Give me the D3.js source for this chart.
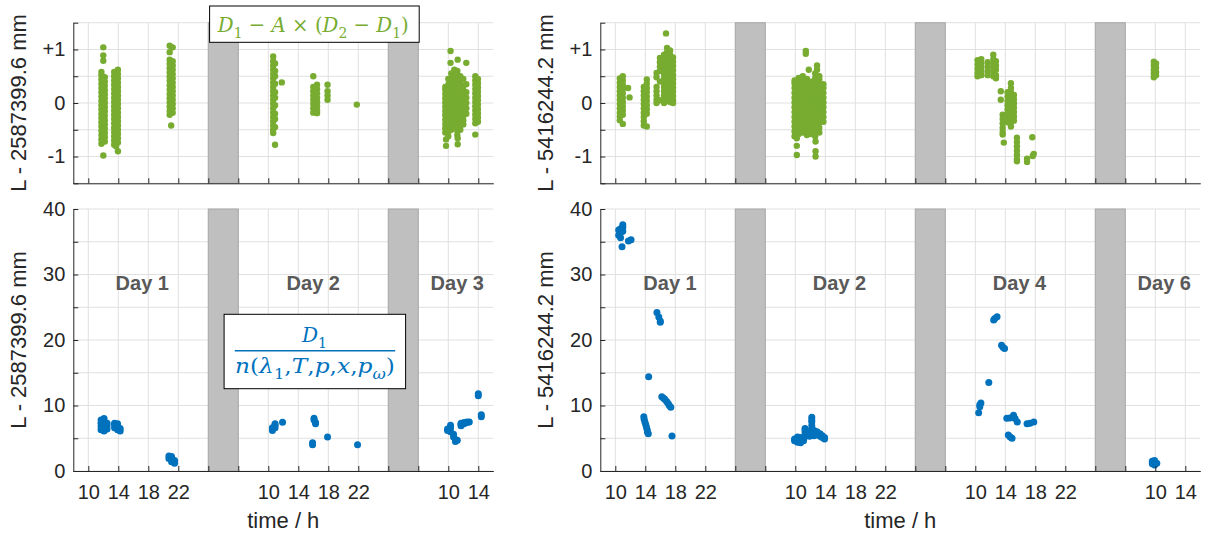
<!DOCTYPE html>
<html><head><meta charset="utf-8">
<script src="https://cdn.jsdelivr.net/npm/d3@7"></script>
<style>body{margin:0;background:#fff}svg{display:block}</style>
</head><body>
<svg id="c" width="1208" height="539"></svg>
<script>
// ---------------- DATA ----------------
// columns: [hour, [values...]]  (hours continuous, day n at 24*(n-1)+hh)
const leftTopCols = [
 [11.75,[-0.76,-0.68,-0.6,-0.52,-0.44,-0.36,-0.28,-0.2,-0.12,-0.04,0.04,0.12,0.2,0.28,0.36,0.44,0.52,0.58]],
 [12.2,[-0.72,-0.64,-0.56,-0.48,-0.4,-0.32,-0.24,-0.16,-0.08,0.0,0.08,0.16,0.24,0.32,0.4,0.48]],
 [12.0,[1.04,0.89,0.79,-0.98,-0.5,0.1,0.45]],
 [13.45,[-0.78,-0.7,-0.62,-0.54,-0.46,-0.38,-0.3,-0.22,-0.14,-0.06,0.02,0.1,0.18,0.26,0.34,0.42,0.5,0.58]],
 [13.95,[-0.9,-0.74,-0.66,-0.58,-0.5,-0.42,-0.34,-0.26,-0.18,-0.1,-0.02,0.06,0.14,0.22,0.3,0.38,0.46,0.54,0.62]],
 [13.7,[-0.81,-0.2,0.3]],
 [20.85,[1.07,0.95,0.81,0.73,0.65,0.57,0.49,0.41,0.33,0.25,0.17,0.09,0.01,-0.07,-0.15,-0.22]],
 [21.25,[1.04,0.78,0.7,0.62,0.54,0.46,0.38,0.3,0.22,0.14,0.06,-0.02,-0.1,-0.18]],
 [21.05,[-0.42]],
 [34.65,[0.87,0.78,0.7,0.62,0.54,0.46,0.38,0.3,0.22,0.14,0.06,-0.02,-0.1,-0.18,-0.26,-0.34,-0.42,-0.5,-0.56]],
 [34.9,[0.74,0.6,0.5,0.36,0.2,0.1,-0.04,-0.2,-0.3,-0.45,-0.78]],
 [35.8,[0.385]],
 [40.0,[0.5,0.3,0.22,0.14,0.06,-0.02,-0.1,-0.18]],
 [40.5,[0.34,0.26,0.18,0.1,0.02,-0.06,-0.14,-0.19]],
 [41.9,[0.34,0.22,0.14,0.06]],
 [45.8,[-0.03]],
 [57.6,[-0.55,-0.47,-0.39,-0.31,-0.23,-0.15,-0.07,0.01,0.09,0.17,0.25,0.3]],
 [58.0,[-0.62,-0.54,-0.46,-0.38,-0.3,-0.22,-0.14,-0.06,0.02,0.1,0.18,0.26,0.34,0.45]],
 [58.4,[-0.5,-0.42,-0.34,-0.26,-0.18,-0.1,-0.02,0.06,0.14,0.22,0.3,0.38,0.46,0.55]],
 [58.8,[-0.45,-0.37,-0.29,-0.21,-0.13,-0.05,0.03,0.11,0.19,0.27,0.35,0.43,0.51,0.62]],
 [59.2,[-0.6,-0.52,-0.44,-0.36,-0.28,-0.2,-0.12,-0.04,0.04,0.12,0.2,0.28,0.36,0.44,0.52,0.6]],
 [59.6,[-0.5,-0.42,-0.34,-0.26,-0.18,-0.1,-0.02,0.06,0.14,0.22,0.3,0.38,0.5]],
 [60.0,[-0.4,-0.32,-0.24,-0.16,-0.08,0.0,0.08,0.16,0.24,0.32,0.45]],
 [60.4,[-0.2,-0.1,0.0,0.1,0.2,0.35,0.75]],
 [58.3,[0.97,0.75]],
 [59.25,[0.81,-0.77,-0.66]],
 [57.7,[-0.8,-0.68]],
 [61.6,[0.5,0.42,0.34,0.26,0.18,0.1,0.02,-0.06,-0.14,-0.22,-0.3,-0.38,-0.59]],
 [61.95,[0.45,0.37,0.29,0.21,0.13,0.05,-0.03,-0.11,-0.19,-0.27,-0.35]]
];
const rightTopCols = [
 [10.6,[0.46,0.38,0.3,0.22,0.14,0.06,-0.02,-0.1,-0.18,-0.25,-0.32]],
 [11.0,[0.5,0.42,0.34,0.26,0.18,0.1,0.02,-0.06,-0.14,-0.22,-0.39]],
 [11.7,[0.28]],[11.9,[0.105]],
 [13.8,[0.3,0.22,0.14,0.06,-0.02,-0.1,-0.18,-0.26,-0.34,-0.42]],
 [14.2,[0.44,0.36,0.28,0.2,0.12,0.04,-0.04,-0.12,-0.2,-0.44]],
 [15.5,[0.56,0.48,0.3,0.22,0.14,0.06,0.0]],
 [15.95,[0.84,0.76,0.68,0.6,0.4,0.05]],
 [16.5,[0.9,0.8,0.7,0.62,0.54,0.46,0.38,0.3,0.22,0.14,0.06,0.0]],
 [16.9,[1.03,0.95,0.87,0.79,0.71,0.63,0.55,0.47,0.39,0.31,0.23,0.15,0.07]],
 [17.3,[0.98,0.9,0.82,0.74,0.66,0.58,0.5,0.42,0.34,0.26,0.18,0.1,0.02]],
 [17.7,[0.85,0.77,0.69,0.61,0.53,0.45,0.37,0.29,0.21,0.13,0.05,0.0]],
 [16.76,[1.3]],
 [33.9,[-0.62,-0.53,-0.44,-0.35,-0.26,-0.17,-0.08,0.01,0.1,0.19,0.28,0.37,0.42]],
 [34.45,[-0.58,-0.49,-0.4,-0.31,-0.22,-0.13,-0.04,0.05,0.14,0.23,0.32,0.41,0.47]],
 [35.0,[-0.55,-0.46,-0.37,-0.28,-0.19,-0.1,-0.01,0.08,0.17,0.26,0.35,0.44,0.5]],
 [35.55,[-0.6,-0.51,-0.42,-0.33,-0.24,-0.15,-0.06,0.03,0.12,0.21,0.3,0.39,0.45]],
 [36.1,[-0.58,-0.49,-0.4,-0.31,-0.22,-0.13,-0.04,0.05,0.14,0.23,0.32,0.4]],
 [36.65,[-0.62,-0.53,-0.44,-0.35,-0.26,-0.17,-0.08,0.01,0.1,0.19,0.28,0.37,0.46,0.55]],
 [37.2,[-0.55,-0.46,-0.37,-0.28,-0.19,-0.1,-0.01,0.08,0.17,0.26,0.35,0.44,0.5]],
 [37.75,[-0.35,-0.26,-0.17,-0.08,0.01,0.1,0.19,0.28,0.35]],
 [34.2,[-0.8,-0.97,-0.66]],
 [36.7,[-0.9,-1.0,-0.72]],
 [35.4,[0.97,0.92]],
 [36.9,[0.7,0.62]],
 [35.8,[0.62]],
 [58.3,[0.8,0.72,0.64,0.56,0.5]],
 [58.8,[0.82,0.74,0.66,0.58,0.52]],
 [59.65,[0.76,0.68,0.6,0.52]],
 [60.4,[0.9,0.82,0.74,0.66,0.58,0.5]],
 [60.75,[0.78,0.7,0.62,0.52,0.46]],
 [61.4,[0.22,0.06]],
 [62.3,[0.2,0.12,0.04,-0.04,-0.12,-0.2,-0.28,-0.36]],
 [62.75,[0.37,0.28,0.2,0.12,0.04,-0.04,-0.12,-0.2,-0.28,-0.36,-0.44]],
 [63.15,[0.15,0.07,-0.01,-0.09,-0.17,-0.25,-0.33]],
 [61.65,[-0.22,-0.3,-0.38,-0.46,-0.54,-0.59]],
 [61.8,[-0.74]],
 [63.55,[-0.65,-0.73,-0.81,-0.89,-0.97,-1.05,-1.09]],
 [64.9,[-1.04,-1.1]],
 [65.6,[-0.64]],
 [65.8,[-0.95]],
 [65.65,[-0.99]],
 [81.8,[0.77,0.7,0.62,0.55,0.48]],
 [82.1,[0.74,0.66,0.58,0.52]]
];
const leftBottomCols = [
 [11.7,[6.3,6.8,7.3,7.8]],[12.1,[6.1,6.6,7.1,7.6,8.0]],[12.5,[6.4,6.9,7.3]],
 [13.5,[6.6,7.1,7.3]],[13.9,[6.3,6.8,7.2]],[14.25,[6.1,6.5]],
 [20.75,[1.9,2.3]],[21.1,[1.4,1.8,2.2]],[21.5,[1.2,1.6]],
 [34.55,[6.2,6.6]],[34.9,[6.6,7.0,7.2]],
 [35.9,[7.43]],
 [40.1,[8.05,7.8]],[40.3,[7.4,7.2]],
 [39.9,[4.0,4.3]],
 [41.9,[5.2]],
 [45.9,[4.0]],
 [57.9,[6.2,6.4]],[58.3,[6.0,6.6,7.0]],[58.7,[5.6,5.2]],[58.95,[4.8,4.5]],[59.2,[4.7]],
 [59.7,[7.1,7.3,6.9]],[60.1,[7.2,7.4]],[60.5,[7.4,7.5]],[60.8,[7.5]],
 [62.0,[11.5,11.8]],[62.4,[8.3,8.6]]
];
const rightBottomCols = [
 [10.45,[36.8,36.0]],[10.7,[36.4,37.0,35.6]],[11.0,[37.6,37.2,36.6]],[10.9,[34.25]],[11.75,[35.1]],[12.1,[35.3]],
 [15.55,[24.2]],[15.8,[23.5]],[16.0,[22.7,22.9]],
 [14.45,[14.4]],
 [13.8,[8.3]],[13.85,[7.9]],[13.95,[7.5]],[14.05,[7.1]],[14.15,[6.7]],[14.25,[6.3]],[14.3,[5.9]],[14.4,[5.7]],
 [16.2,[11.35]],[16.45,[11.1]],[16.6,[10.95]],[16.85,[10.6]],[17.05,[10.3]],[17.2,[10.0]],[17.4,[9.75]],
 [17.56,[5.34]],
 [33.9,[4.6,4.9]],[34.3,[4.4,4.8,5.2]],[34.7,[4.3,4.7,5.1]],[35.1,[4.6,5.0]],[35.3,[6.5,6.2,5.8]],
 [35.6,[5.4,5.9]],[35.9,[5.3,5.7,6.0]],[36.2,[8.2,7.8,7.5,6.9,6.4,5.5]],[36.5,[5.4,5.8,6.2]],
 [36.9,[5.6,6.0]],[37.3,[5.3,5.7]],[37.6,[5.1,5.4]],[37.9,[4.9,5.1]],
 [58.45,[8.9]],[58.6,[9.8,10.1]],[58.75,[10.4]],[59.8,[13.5]],
 [60.45,[23.05]],[60.6,[23.3]],[60.9,[23.55]],
 [61.5,[19.2]],[61.7,[18.9]],[61.9,[18.7]],
 [62.2,[8.05]],[62.6,[8.1]],[63.1,[8.5]],[63.3,[8.0]],[63.6,[7.5]],
 [62.4,[5.5]],[62.65,[5.2]],[62.9,[5.0]],
 [64.9,[7.2]],[65.3,[7.3]],[65.8,[7.5]],
 [81.6,[1.5,1.1]],[81.9,[1.3,0.9,1.6]],[82.2,[1.2]]
];
const leftNightBands = [[26,30],[50,54]];
const rightNightBands = [[26,30],[50,54],[74,78]];
const leftXTicks = [10,14,18,22,26,30,34,38,42,46,50,54,58,62];
const leftXTickLabels = ['10','14','18','22','','','10','14','18','22','','','10','14'];
const rightXTicks = [10,14,18,22,26,30,34,38,42,46,50,54,58,62,66,70,74,78,82,86];
const rightXTickLabels = ['10','14','18','22','','','10','14','18','22','','','10','14','18','22','','','10','14'];
const topYTicks = [-1.5,-1,-0.5,0,0.5,1,1.5];
const topYTickLabels = ['','-1','','0','','+1',''];
const bottomYTicks = [0,5,10,15,20,25,30,35,40];
const bottomYTickLabels = ['0','','10','','20','','30','','40'];
const leftDays = ['Day 1','Day 2','Day 3'];
const leftDayHours = [17.2,40.0,59.2];
const rightDays = ['Day 1','Day 2','Day 4','Day 6'];
const rightDayHours = [17.3,39.9,63.9,83.2];
const dayLabelLevel = 27.7;
const leftYLabel = 'L - 2587399.6 mm';
const rightYLabel = 'L - 5416244.2 mm';
const xLabel = 'time / h';

// ---------------- DRAW ----------------
const GREEN = '#77AC30', BLUE = '#0072BD', AX = '#262626';
const FONT = '"Liberation Sans", Arial, Helvetica, sans-serif';
const svg = d3.select('#c');
const flat = cols => cols.flatMap(([h, vs]) => vs.map(v => [h, v]));

function panel(o){
  const x = d3.scaleLinear().domain(o.xdom).range([o.x0, o.x1]);
  const y = d3.scaleLinear().domain(o.ydom).range([o.y1, o.y0]);
  const g = svg.append('g');
  g.append('g').selectAll('line').data(o.xTicks).join('line')
    .attr('x1', d => x(d)).attr('x2', d => x(d)).attr('y1', o.y0).attr('y2', o.y1)
    .attr('stroke', '#e0e0e0').attr('stroke-width', 1);
  g.append('g').selectAll('line').data(o.yTicks).join('line')
    .attr('x1', o.x0).attr('x2', o.x1).attr('y1', d => y(d)).attr('y2', d => y(d))
    .attr('stroke', '#e0e0e0').attr('stroke-width', 1);
  g.append('g').selectAll('rect').data(o.bands).join('rect')
    .attr('x', d => x(d[0])).attr('width', d => x(d[1]) - x(d[0]))
    .attr('y', o.y0).attr('height', o.y1 - o.y0)
    .attr('fill', '#bfbfbf').attr('stroke', '#a9a9a9').attr('stroke-width', 1);
  g.append('g').selectAll('circle').data(flat(o.cols)).join('circle')
    .attr('cx', d => x(d[0])).attr('cy', d => y(d[1])).attr('r', o.r).attr('fill', o.color);
  const ax = d3.axisBottom(x).tickValues(o.xTicks).tickSizeInner(-5).tickSizeOuter(0).tickPadding(14)
     .tickFormat((d,i) => o.xLabels ? o.xLabels[i] : '');
  const xa = g.append('g').attr('transform', `translate(0,${o.y1})`).call(ax);
  const ay = d3.axisLeft(y).tickValues(o.yTicks).tickSizeInner(-5).tickSizeOuter(0).tickPadding(8)
     .tickFormat((d,i) => o.yLabels[i]);
  const ya = g.append('g').attr('transform', `translate(${o.x0},0)`).call(ay);
  [xa, ya].forEach(a => {
    a.select('.domain').attr('stroke', AX).attr('stroke-width', 1);
    a.selectAll('.tick line').attr('stroke', AX);
    a.selectAll('.tick text').attr('fill', AX).style('font-family', FONT).style('font-size', '20px');
  });
  g.append('text').attr('transform', `translate(${o.x0 - 47},${(o.y0 + o.y1) / 2}) rotate(-90)`)
    .attr('text-anchor', 'middle').attr('fill', AX).style('font-family', FONT).style('font-size', '22px')
    .text(o.ylab);
  if (o.days) {
    g.append('g').selectAll('text').data(o.days).join('text')
      .attr('x', (d,i) => x(o.dayHours[i])).attr('y', y(dayLabelLevel))
      .attr('text-anchor', 'middle').attr('fill', '#595959')
      .style('font-family', FONT).style('font-size', '20px').style('font-weight', 'bold')
      .text(d => d);
  }
  if (o.xlab) {
    g.append('text').attr('x', (o.x0 + o.x1) / 2).attr('y', 528.3).attr('text-anchor', 'middle')
      .attr('fill', AX).style('font-family', FONT).style('font-size', '22px').text(o.xlab);
  }
  return {x, y};
}

const L = {x0: 73.3, x1: 493.3}, R = {x0: 600.3, x1: 1200.3};
const T = {y0: 22.7, y1: 183.3}, B = {y0: 209, y1: 471};

panel({...L, ...T, xdom: [8, 64], ydom: [-1.5, 1.5], xTicks: leftXTicks, yTicks: topYTicks, yLabels: topYTickLabels,
  bands: leftNightBands, cols: leftTopCols, color: GREEN, r: 3.2, ylab: leftYLabel});
panel({...R, ...T, xdom: [8, 88], ydom: [-1.5, 1.5], xTicks: rightXTicks, yTicks: topYTicks, yLabels: topYTickLabels,
  bands: rightNightBands, cols: rightTopCols, color: GREEN, r: 3.2, ylab: rightYLabel});
panel({...L, ...B, xdom: [8, 64], ydom: [0, 40], xTicks: leftXTicks, xLabels: leftXTickLabels, yTicks: bottomYTicks,
  yLabels: bottomYTickLabels, bands: leftNightBands, cols: leftBottomCols, color: BLUE, r: 3.5, ylab: leftYLabel,
  days: leftDays, dayHours: leftDayHours, xlab: xLabel});
panel({...R, ...B, xdom: [8, 88], ydom: [0, 40], xTicks: rightXTicks, xLabels: rightXTickLabels, yTicks: bottomYTicks,
  yLabels: bottomYTickLabels, bands: rightNightBands, cols: rightBottomCols, color: BLUE, r: 3.5, ylab: rightYLabel,
  days: rightDays, dayHours: rightDayHours, xlab: xLabel});

// ---------------- FORMULAS ----------------
const MFONT = '"DejaVu Serif", "Liberation Serif", serif';
function mathText(parent, parts, cx, base, size, color, width){
  const t = parent.append('text').attr('x', 0).attr('y', 0).attr('fill', color)
    .style('font-family', MFONT).style('font-size', size + 'px');
  let shift = 0;
  parts.forEach(p => {
    const target = p.sub ? size * 0.28 : 0;
    const ts = t.append('tspan').text(p.t).attr('dy', target - shift);
    shift = target;
    if (p.i) ts.style('font-style', 'italic');
    if (p.sub) ts.style('font-size', (size * 0.7) + 'px');
  });
  const w = t.node().getBBox().width;
  const sx = width / w;
  t.attr('transform', `translate(${cx - width / 2},${base}) scale(${sx},1)`);
  return t;
}
const fg = svg.append('g');
fg.append('rect').attr('x', 209.6).attr('y', 6).attr('width', 209.6).attr('height', 36.3)
  .attr('fill', '#fff').attr('stroke', '#000').attr('stroke-width', 1);
mathText(fg, [{t:'D',i:1},{t:'1',sub:1},{t:' − '},{t:'A',i:1},{t:' × ('},{t:'D',i:1},{t:'2',sub:1},{t:' − '},{t:'D',i:1},{t:'1',sub:1},{t:')'}],
  313.8, 31.7, 21, GREEN, 192);
fg.append('rect').attr('x', 224.1).attr('y', 314.3).attr('width', 181.5).attr('height', 74.4)
  .attr('fill', '#fff').attr('stroke', '#000').attr('stroke-width', 1);
mathText(fg, [{t:'D',i:1},{t:'1',sub:1}], 315, 341.7, 21, BLUE, 26);
fg.append('line').attr('x1', 234.8).attr('x2', 395.2).attr('y1', 350.7).attr('y2', 350.7)
  .attr('stroke', BLUE).attr('stroke-width', 1.5);
mathText(fg, [{t:'n',i:1},{t:'('},{t:'λ',i:1},{t:'1',sub:1},{t:','},{t:'T',i:1},{t:','},{t:'p',i:1},{t:','},{t:'x',i:1},{t:','},{t:'p',i:1},{t:'ω',i:1,sub:1},{t:')'}],
  315, 372.7, 21, BLUE, 160);
</script>
</body></html>
